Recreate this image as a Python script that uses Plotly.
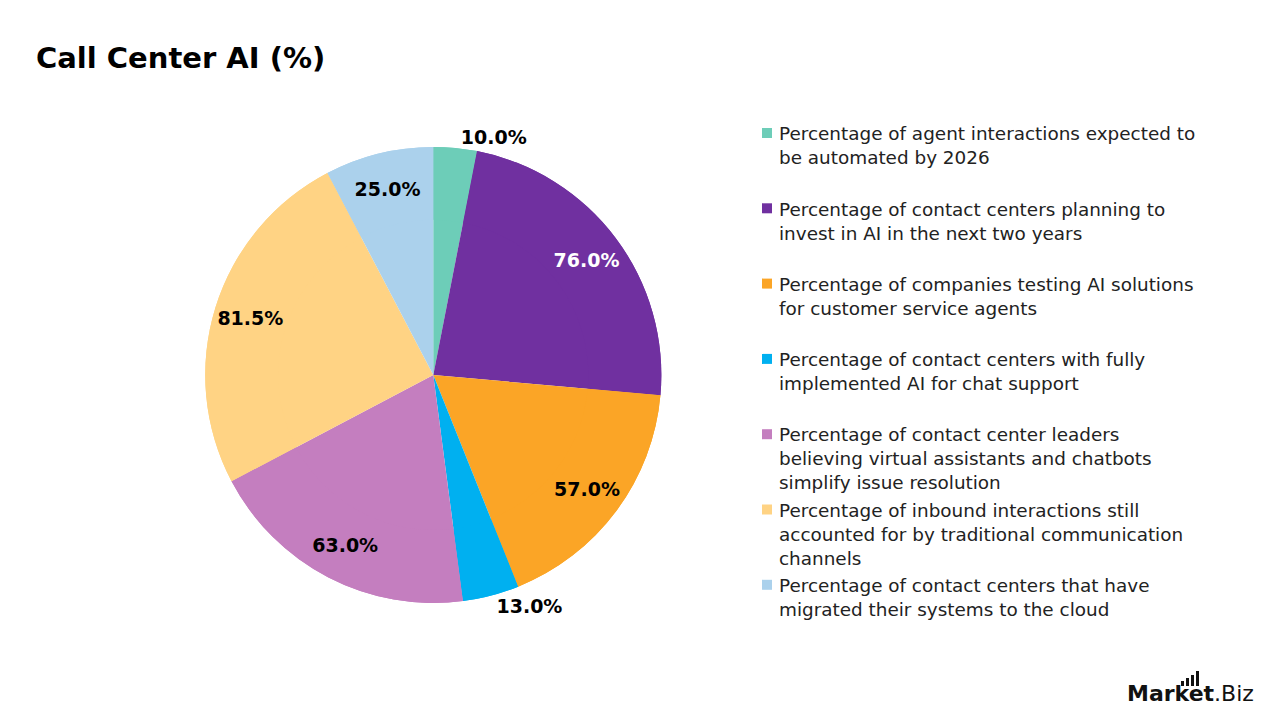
import plotly.graph_objects as go

labels = [
    "Percentage of agent interactions expected to be automated by 2026",
    "Percentage of contact centers planning to invest in AI in the next two years",
    "Percentage of companies testing AI solutions for customer service agents",
    "Percentage of contact centers with fully implemented AI for chat support",
    "Percentage of contact center leaders believing virtual assistants and chatbots simplify issue resolution",
    "Percentage of inbound interactions still accounted for by traditional communication channels",
    "Percentage of contact centers that have migrated their systems to the cloud",
]
legend_lines = [
    ["Percentage of agent interactions expected to", "be automated by 2026"],
    ["Percentage of contact centers planning to", "invest in AI in the next two years"],
    ["Percentage of companies testing AI solutions", "for customer service agents"],
    ["Percentage of contact centers with fully", "implemented AI for chat support"],
    ["Percentage of contact center leaders", "believing virtual assistants and chatbots", "simplify issue resolution"],
    ["Percentage of inbound interactions still", "accounted for by traditional communication", "channels"],
    ["Percentage of contact centers that have", "migrated their systems to the cloud"],
]
values = [10.0, 76.0, 57.0, 13.0, 63.0, 81.5, 25.0]
colors = ["#6DCDB8", "#7030A0", "#FBA526", "#00B0F0", "#C47EBF", "#FFD384", "#ABD1EC"]
text_colors = ["#000000", "#FFFFFF", "#000000", "#000000", "#000000", "#000000", "#000000"]
positions = ["outside", "inside", "inside", "outside", "inside", "inside", "inside"]

FONT = "DejaVu Sans"

pie_domain = dict(x=[0.05, 0.627], y=[0.1625, 0.796])

fig = go.Figure()
# base full pie (no text)
fig.add_trace(go.Pie(
    labels=labels, values=values, sort=False, direction="clockwise", rotation=0,
    marker=dict(colors=colors, line=dict(color="rgba(0,0,0,0)", width=0)),
    textinfo="none", showlegend=False, hoverinfo="label+value",
    domain=pie_domain, automargin=False,
))
# ring overlay carrying the value labels further out
fig.add_trace(go.Pie(
    labels=labels, values=values, sort=False, direction="clockwise", rotation=0,
    hole=0.68,
    marker=dict(colors=colors, line=dict(color="rgba(0,0,0,0)", width=0)),
    texttemplate="%{value:.1f}%",
    textposition=positions,
    insidetextorientation="horizontal",
    textfont=dict(family=FONT, size=19, color=text_colors, weight="bold"),
    outsidetextfont=dict(family=FONT, size=19, color="#000000", weight="bold"),
    showlegend=False, hoverinfo="skip",
    domain=pie_domain, automargin=False,
))

# Legend drawn as annotations
x_sq = 767
x_txt = 777
y0 = 133
step = 75.3
line_h = 23.5
shapes = []
annotations = []
for i, (lines, c) in enumerate(zip(legend_lines, colors)):
    yt = y0 + i * step
    shapes.append(dict(type="rect", xref="paper", yref="paper",
                       x0=(x_sq - 5) / 1280, x1=(x_sq + 5) / 1280,
                       y0=1 - (yt + 5) / 720, y1=1 - (yt - 5) / 720,
                       fillcolor=c, line=dict(width=0)))
    annotations.append(dict(
        text="<br>".join(lines), xref="paper", yref="paper",
        x=x_txt / 1280, y=1 - (yt - line_h / 2) / 720,
        xanchor="left", yanchor="top", align="left", showarrow=False,
        font=dict(family=FONT, size=18.4, color="#222222"),
    ))

# Title
annotations.append(dict(
    text="<b>Call Center AI (%)</b>", xref="paper", yref="paper",
    x=34 / 1280, y=1 - 58 / 720, xanchor="left", yanchor="middle", showarrow=False,
    font=dict(family=FONT, size=29, color="#000000"),
))
# Logo
annotations.append(dict(
    text="<b>Market</b>.Biz", xref="paper", yref="paper",
    x=1256 / 1280, y=1 - 693 / 720, xanchor="right", yanchor="middle", showarrow=False,
    font=dict(family=FONT, size=22, color="#111111"),
))
# Logo bar icon
for bx, btop in [(1181, 681), (1186, 678), (1191, 675), (1196, 671)]:
    shapes.append(dict(type="rect", xref="paper", yref="paper",
                       x0=bx / 1280, x1=(bx + 3) / 1280,
                       y0=1 - 686 / 720, y1=1 - btop / 720,
                       fillcolor="#111111", line=dict(width=0)))

fig.update_layout(
    width=1280, height=720, autosize=False,
    margin=dict(l=0, r=0, t=0, b=0, pad=0, autoexpand=False),
    paper_bgcolor="#FFFFFF", plot_bgcolor="#FFFFFF",
    shapes=shapes, annotations=annotations,
    font=dict(family=FONT),
)

fig.write_html("out.html")
